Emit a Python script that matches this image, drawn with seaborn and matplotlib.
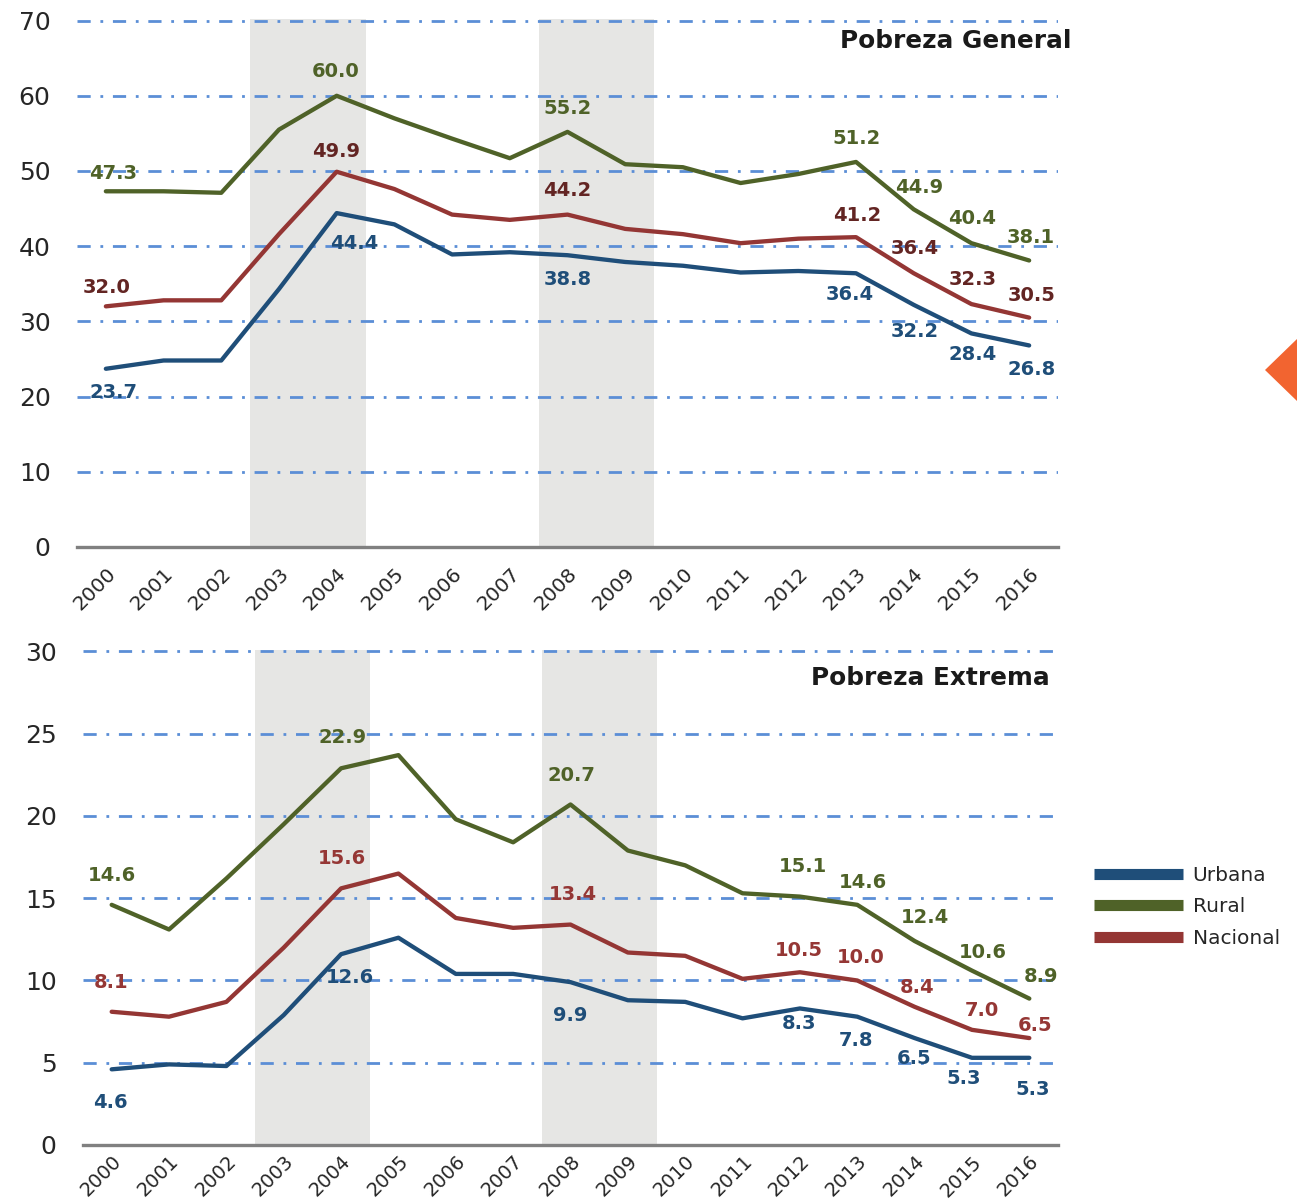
import numpy as np
import pandas as pd
import matplotlib
matplotlib.use("Agg")
import matplotlib.pyplot as plt
import seaborn as sns
from matplotlib.lines import Line2D
from matplotlib.patches import Polygon
from matplotlib.transforms import ScaledTranslation

# ---------------- data ----------------
years = list(range(2000, 2017))
series = ["Urbana", "Rural", "Nacional"]

gen_urbana = [23.7, 24.8, 24.8, 34.3, 44.4, 42.9, 38.9, 39.2, 38.8, 37.9, 37.4, 36.5, 36.7, 36.4, 32.2, 28.4, 26.8]
gen_rural = [47.3, 47.3, 47.1, 55.5, 60.0, 57.0, 54.3, 51.7, 55.2, 50.9, 50.5, 48.4, 49.6, 51.2, 44.9, 40.4, 38.1]
gen_nacional = [32.0, 32.8, 32.8, 41.6, 49.9, 47.6, 44.2, 43.5, 44.2, 42.3, 41.6, 40.4, 41.0, 41.2, 36.4, 32.3, 30.5]

ext_urbana = [4.6, 4.9, 4.8, 7.9, 11.6, 12.6, 10.4, 10.4, 9.9, 8.8, 8.7, 7.7, 8.3, 7.8, 6.5, 5.3, 5.3]
ext_rural = [14.6, 13.1, 16.2, 19.5, 22.9, 23.7, 19.8, 18.4, 20.7, 17.9, 17.0, 15.3, 15.1, 14.6, 12.4, 10.6, 8.9]
ext_nacional = [8.1, 7.8, 8.7, 12.0, 15.6, 16.5, 13.8, 13.2, 13.4, 11.7, 11.5, 10.1, 10.5, 10.0, 8.4, 7.0, 6.5]

# printed data labels: (year, printed text)
gen_lbl_rural = [(2000, "47.3"), (2004, "60.0"), (2008, "55.2"), (2013, "51.2"), (2014, "44.9"), (2015, "40.4"), (2016, "38.1")]
gen_lbl_nacional = [(2000, "32.0"), (2004, "49.9"), (2008, "44.2"), (2013, "41.2"), (2014, "36.4"), (2015, "32.3"), (2016, "30.5")]
gen_lbl_urbana = [(2000, "23.7"), (2004, "44.4"), (2008, "38.8"), (2013, "36.4"), (2014, "32.2"), (2015, "28.4"), (2016, "26.8")]

ext_lbl_rural = [(2000, "14.6"), (2004, "22.9"), (2008, "20.7"), (2012, "15.1"), (2013, "14.6"), (2014, "12.4"), (2015, "10.6"), (2016, "8.9")]
ext_lbl_nacional = [(2000, "8.1"), (2004, "15.6"), (2008, "13.4"), (2012, "10.5"), (2013, "10.0"), (2014, "8.4"), (2015, "7.0"), (2016, "6.5")]
ext_lbl_urbana = [(2000, "4.6"), (2004, "12.6"), (2008, "9.9"), (2012, "8.3"), (2013, "7.8"), (2014, "6.5"), (2015, "5.3"), (2016, "5.3")]

shade_periods = [(2003, 2004), (2008, 2009)]
titles = ["Pobreza General", "Pobreza Extrema"]

# ---------------- style ----------------
line_colors = {"Urbana": "#1F4E79", "Rural": "#4F6228", "Nacional": "#943634"}
label_colors_top = {"Urbana": "#1F4E79", "Rural": "#4F6228", "Nacional": "#632523"}
label_colors_bot = {"Urbana": "#1F4E79", "Rural": "#4F6228", "Nacional": "#953735"}

# label offsets in pixels (dx right, dy down) relative to the point
gen_off = {
    "Rural": [(7, -18), (-1, -24), (0, -23), (1, -23), (5, -22), (1, -25), (2, -23)],
    "Nacional": [(1, -19), (-1, -20), (0, -24), (1, -22), (1, -25), (1, -25), (2, -22)],
    "Urbana": [(8, 24), (18, 30), (0, 24), (-6, 21), (1, 27), (1, 21), (2, 24)],
}
ext_off = {
    "Rural": [(0, -29), (1, -31), (1, -29), (3, -30), (6, -22), (10, -24), (11, -18), (12, -22)],
    "Nacional": [(-1, -29), (1, -30), (2, -30), (-1, -22), (3, -23), (2, -19), (10, -19), (6, -13)],
    "Urbana": [(-1, 33), (9, 23), (0, 33), (-1, 15), (-1, 24), (-1, 20), (-8, 21), (3, 32)],
}

sns.set_style("white")
plt.rcParams["font.family"] = ["DejaVu Sans"]
plt.rcParams["lines.scale_dashes"] = False

W, H = 1297, 1204
fig = plt.figure(figsize=(W / 100, H / 100), dpi=100)


def px_axes(left, right, top, bottom):
    return fig.add_axes([left / W, 1 - bottom / H, (right - left) / W, (bottom - top) / H])


ax_top = px_axes(77, 1058, 19, 547)
ax_bot = px_axes(83, 1058, 650, 1145)

panels = [
    (ax_top, {"Urbana": gen_urbana, "Rural": gen_rural, "Nacional": gen_nacional},
     {"Urbana": gen_lbl_urbana, "Rural": gen_lbl_rural, "Nacional": gen_lbl_nacional},
     gen_off, label_colors_top, 70, 10, 12, 14.5),
    (ax_bot, {"Urbana": ext_urbana, "Rural": ext_rural, "Nacional": ext_nacional},
     {"Urbana": ext_lbl_urbana, "Rural": ext_lbl_rural, "Nacional": ext_lbl_nacional},
     ext_off, label_colors_bot, 30, 5, 5, 14),
]

shift = ScaledTranslation(-7 / 100, 0, fig.dpi_scale_trans)

for ax, data, labels, offs, lcolors, ymax, ystep, xpad, xsize in panels:
    df = pd.DataFrame({
        "Año": years * 3,
        "Serie": sum([[s] * len(years) for s in series], []),
        "Valor": sum([data[s] for s in series], []),
    })
    for a, b in shade_periods:
        ax.axvspan(a - 0.5, b + 0.5, color="#E6E6E4", lw=0, zorder=0.2)
    sns.lineplot(data=df, x="Año", y="Valor", hue="Serie", hue_order=series,
                 palette=line_colors, linewidth=3.1, legend=False, ax=ax, zorder=3,
                 estimator=None)
    ax.set_xlim(1999.5, 2016.5)
    ax.set_ylim(0, ymax * 1.003)
    ax.set_yticks(np.arange(0, ymax + 0.1, ystep))
    ax.set_xticks(years)
    ax.set_xticklabels([str(y) for y in years], rotation=45, ha="right", va="top",
                       rotation_mode="anchor")
    for lab in ax.get_xticklabels():
        lab.set_transform(lab.get_transform() + shift)
    ax.set_xlabel("")
    ax.set_ylabel("")
    ax.set_axisbelow(True)
    ax.yaxis.grid(True, color="#5B8ED6", linewidth=2.0, linestyle=(0, (9.5, 7, 2, 7)))
    ax.xaxis.grid(False)
    for sp in ["left", "right", "top"]:
        ax.spines[sp].set_visible(False)
    ax.spines["bottom"].set_color("#808080")
    ax.spines["bottom"].set_linewidth(2.4)
    ax.spines["bottom"].set_zorder(4)
    ax.tick_params(axis="y", length=0, labelsize=18, pad=19, labelcolor="#262626")
    ax.tick_params(axis="x", length=0, labelsize=xsize, pad=xpad, labelcolor="#262626")

    for s in series:
        for (yr, txt), (dx, dy) in zip(labels[s], offs[s]):
            idx = years.index(yr)
            ax.annotate(txt, (yr, data[s][idx]), xytext=(dx * 0.72, -dy * 0.72),
                        textcoords="offset points", ha="center", va="center",
                        fontsize=14, fontweight="bold", color=lcolors[s], zorder=5)

# titles
fig.text(1072 / W, 1 - 41 / H, titles[0], ha="right", va="center", fontsize=17.8,
         fontweight="bold", color="#1A1A1A")
fig.text(1050 / W, 1 - 678 / H, titles[1], ha="right", va="center", fontsize=17.8,
         fontweight="bold", color="#1A1A1A")

# legend
handles = [Line2D([], [], color=line_colors[s], lw=8, solid_capstyle="butt") for s in series]
leg = fig.legend(handles, series, loc="center left", bbox_to_anchor=(1094 / W, 1 - 907 / H),
                 frameon=False, handlelength=4.4, handletextpad=0.5, labelspacing=0.62,
                 fontsize=14.5, borderpad=0, borderaxespad=0)
for t in leg.get_texts():
    t.set_color("#262626")

# decorative orange marker at right edge
tri = Polygon([(1265 / W, 1 - 370 / H), (1.0, 1 - 339 / H), (1.0, 1 - 401 / H)],
              closed=True, transform=fig.transFigure, color="#F26430", lw=0)
fig.add_artist(tri)

fig.savefig("out.png", dpi=100, facecolor="white")
